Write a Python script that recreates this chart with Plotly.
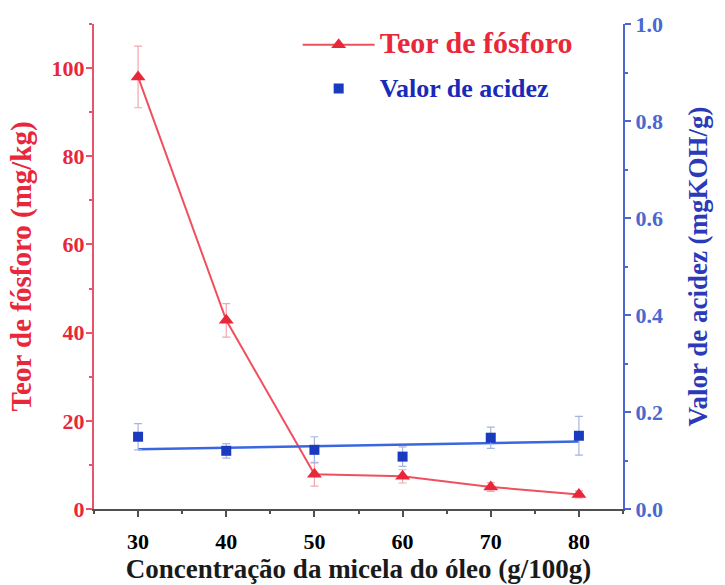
import plotly.graph_objects as go

# Data
conc = [30, 40, 50, 60, 70, 80]
fosforo = [98.0, 42.8, 7.9, 7.4, 5.0, 3.3]
fosforo_err = [7.0, 3.8, 2.7, 1.5, 1.0, 0.8]
acidez = [0.149, 0.120, 0.122, 0.108, 0.147, 0.151]
acidez_err = [0.027, 0.015, 0.027, 0.02, 0.022, 0.04]
fit_x = [30, 80]
fit_y = [0.123, 0.139]

x_ticks = [30, 40, 50, 60, 70, 80]
y_ticks = [0, 20, 40, 60, 80, 100]
y2_ticks = [0.0, 0.2, 0.4, 0.6, 0.8, 1.0]

RED = "#e8283a"
RED_LINE = "#f0505e"
RED_AX = "#e8556a"
BLUE = "#1a3ac0"
BLUE_LINE = "#3a66e0"
BLUE_AX = "#4a68d0"
FONT = "Liberation Serif"

fig = go.Figure()

fig.add_trace(go.Scatter(
    x=conc, y=fosforo, mode="lines+markers",
    name='<span style="color:#e8283a;font-size:30px"><b>Teor de fósforo</b></span>',
    line=dict(color=RED_LINE, width=2),
    marker=dict(symbol="triangle-up", size=13, color=RED),
    error_y=dict(type="data", array=fosforo_err, color="#f2a6ae", thickness=1.2, width=4),
    yaxis="y", legendgroup="a",
))

fig.add_trace(go.Scatter(
    x=fit_x, y=fit_y, mode="lines", showlegend=False,
    line=dict(color=BLUE_LINE, width=2.5),
    yaxis="y2",
))

fig.add_trace(go.Scatter(
    x=conc, y=acidez, mode="markers",
    name='<span style="color:#1a2ab8;font-size:26px"><b>Valor de acidez</b></span>',
    marker=dict(symbol="square", size=10, color=BLUE),
    error_y=dict(type="data", array=acidez_err, color="#a8b4e0", thickness=1.2, width=4),
    yaxis="y2", legendgroup="b",
))

fig.update_layout(
    width=725, height=585,
    margin=dict(l=94, r=102, t=18, b=76),
    paper_bgcolor="white", plot_bgcolor="white",
    font=dict(family=FONT, size=18, color="black"),
    showlegend=True,
    legend=dict(x=0.385, y=1.0, xanchor="left", yanchor="top",
                bgcolor="rgba(0,0,0,0)", font=dict(family=FONT, size=22),
                traceorder="grouped", tracegroupgap=12, itemwidth=72),
    xaxis=dict(
        range=[25, 85], tickvals=x_ticks, showgrid=False, zeroline=False,
        showline=True, linecolor="#505050", linewidth=2,
        ticks="outside", ticklen=6, tickwidth=2, tickcolor="#505050",
        minor=dict(ticks="outside", ticklen=3, dtick=5, tick0=25, tickcolor="#505050", tickwidth=2),
        tickfont=dict(family=FONT, size=22, color="black", weight="bold"),
        ticklabelstandoff=6,
        title=dict(text="<b>Concentração da micela do óleo (g/100g)</b>",
                   font=dict(family=FONT, size=27, color="#1a1a1a"), standoff=0),
    ),
    yaxis=dict(
        range=[0, 110], tickvals=y_ticks, showgrid=False, zeroline=False,
        showline=True, linecolor=RED_AX, linewidth=2,
        ticks="outside", ticklen=6, tickwidth=2, tickcolor=RED_AX,
        minor=dict(ticks="outside", ticklen=3, dtick=10, tickcolor=RED_AX, tickwidth=2),
        tickfont=dict(family=FONT, size=22, color=RED, weight="bold"),
        ticklabelstandoff=-3,
        title=dict(text="<b>Teor de fósforo (mg/kg)</b>",
                   font=dict(family=FONT, size=29, color=RED), standoff=11),
    ),
    yaxis2=dict(
        range=[0, 1], tickvals=y2_ticks, ticktext=[f"{v:.1f}" for v in y2_ticks],
        overlaying="y", side="right", showgrid=False, zeroline=False,
        showline=True, linecolor=BLUE_AX, linewidth=2,
        ticks="outside", ticklen=6, tickwidth=2, tickcolor=BLUE_AX,
        minor=dict(ticks="outside", ticklen=3, dtick=0.1, tickcolor=BLUE_AX, tickwidth=2),
        tickfont=dict(family=FONT, size=22, color=BLUE_AX, weight="bold"),
        title=dict(text="<b>Valor de acidez (mgKOH/g)</b>",
                   font=dict(family=FONT, size=27, color="#2a3ab8"), standoff=26),
    ),
)

fig.write_html("out.html")
